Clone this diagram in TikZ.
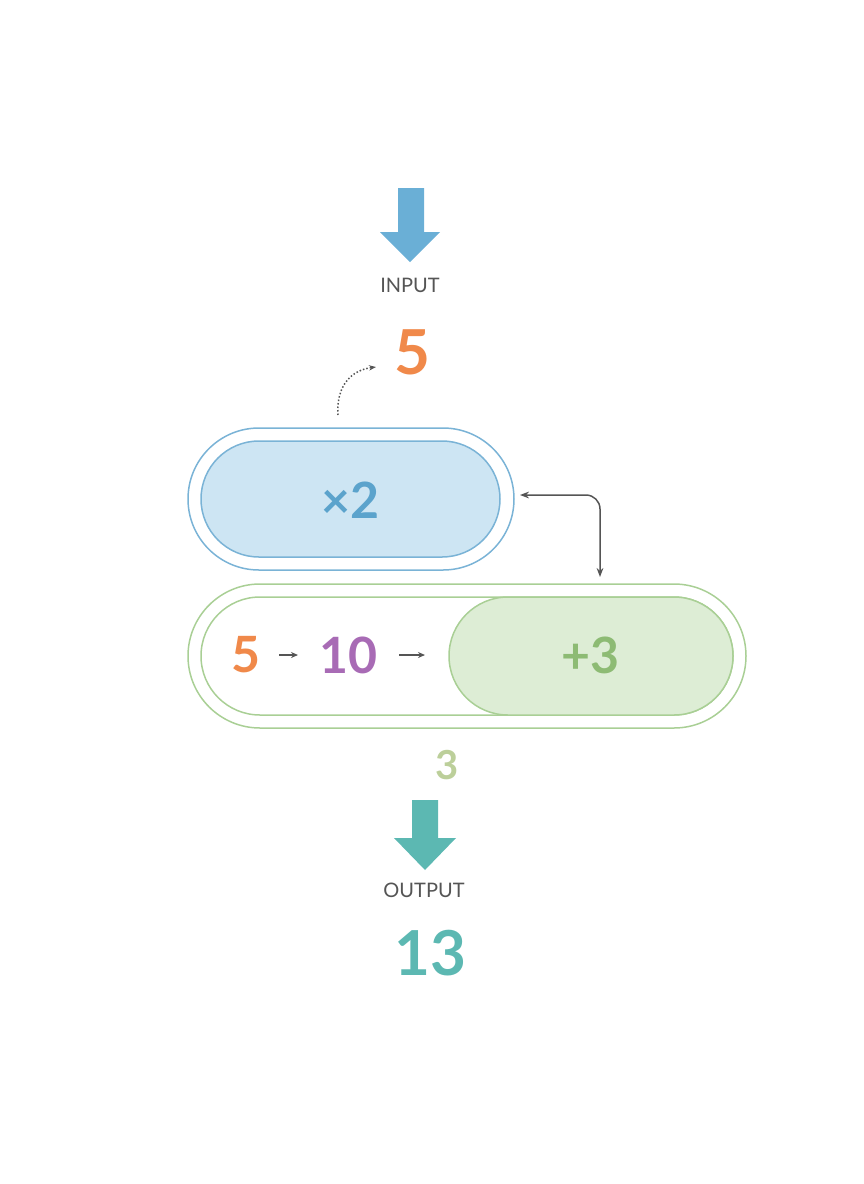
\documentclass[tikz,border=0pt]{standalone}
\usepackage{fontspec}
\setmainfont{Lato}
\usetikzlibrary{arrows.meta,positioning}
\definecolor{inblue}{HTML}{6AAFD6}
\definecolor{pillblue}{HTML}{CDE5F3}
\definecolor{lineblue}{HTML}{7AB3D6}
\definecolor{txtblue}{HTML}{5BA3CC}
\definecolor{orng}{HTML}{F0894A}
\definecolor{purp}{HTML}{A86BB5}
\definecolor{pillgreen}{HTML}{DDEDD5}
\definecolor{linegreen}{HTML}{A9CF95}
\definecolor{txtgreen}{HTML}{8DBB74}
\definecolor{palegreen}{HTML}{BCCF9A}
\definecolor{outteal}{HTML}{5CB8B2}
\definecolor{txtgray}{HTML}{555555}
\tikzset{
  lbl/.style={text=txtgray,font=\fontsize{20}{24}\selectfont},
  big/.style={font=\bfseries\fontsize{62}{70}\selectfont},
  mid/.style={font=\bfseries\fontsize{50}{60}\selectfont},
  small/.style={-{Stealth[length=7pt,width=6pt]},txtgray,line width=1.2pt},
}
\begin{document}
\begin{tikzpicture}[x=1pt,y=-1pt]
\useasboundingbox (0,0) rectangle (864,1184);
% input
\fill[inblue] (398,188) -- (424,188) -- (424,232) -- (440,232) -- (410,262) -- (380,232) -- (398,232) -- cycle;
\node[lbl] (inlbl) at (410,285) {INPUT};
\node[big,text=orng] (inval) at (412,352) {5};
\coordinate (dotstart) at (338,415);
\draw[dotted,line width=1.5pt,txtgray,-{Stealth[length=7pt]}] (dotstart) .. controls (336,385) and (352,370) .. (376,367);
% x2 pill
\draw[lineblue,line width=1.5pt,rounded corners=71pt] (188,428) rectangle (514,570);
\draw[lineblue,fill=pillblue,line width=1.5pt,rounded corners=58pt] (201,441) rectangle (500,557);
\node[mid,text=txtblue] (times) at (350,500) {×2};
% +3 row
\draw[linegreen,line width=1.5pt,rounded corners=72pt] (188,584) rectangle (746,728);
\draw[linegreen,line width=1.5pt,rounded corners=59pt] (201,597) rectangle (733,715);
\draw[linegreen,fill=pillgreen,line width=1.5pt,rounded corners=59pt] (449,597) rectangle (733,715);
\node[mid,text=txtgreen] (plus) at (590,655) {+3};
\node[mid,text=orng] (five) at (246,655) {5};
\node[mid,text=purp] (ten) at (348,655) {10};
\draw[small] (279,655) -- (298,655);
\draw[small] (399,655) -- (425,655);
% link
\coordinate (lnka) at (520,495);
\coordinate (lnkb) at (600,577);
\draw[txtgray,line width=1.5pt,{Stealth[length=9pt]}-{Stealth[length=9pt]},rounded corners=14pt] (lnka) -- (600,495) -- (lnkb);
\node[font=\bfseries\fontsize{40}{48}\selectfont,text=palegreen] (three) at (447,765) {3};
% output
\fill[outteal] (412,800) -- (438,800) -- (438,838) -- (456,838) -- (425,870) -- (394,838) -- (412,838) -- cycle;
\node[lbl] (outlbl) at (424,890) {OUTPUT};
\node[big,text=outteal] (outval) at (430,953) {13};
\end{tikzpicture}
\end{document}
